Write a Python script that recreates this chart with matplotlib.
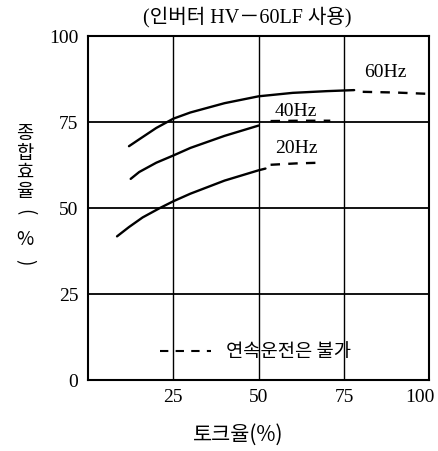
import matplotlib
matplotlib.use("Agg")
import matplotlib.pyplot as plt
import matplotlib.transforms as mtransforms

plt.rcParams['font.family'] = ['Liberation Serif', 'Noto Sans CJK KR', 'DejaVu Sans']

# Data (torque % vs overall efficiency %)
x60_solid = [12, 15, 20, 25, 30, 40, 50, 60, 70, 78]
y60_solid = [68, 70, 73.3, 76, 77.8, 80.5, 82.5, 83.5, 84, 84.3]
x60_dash = [80.5, 90, 100]
y60_dash = [83.8, 83.6, 83.2]

x40_solid = [12.5, 15, 20, 25, 30, 40, 50]
y40_solid = [58.5, 60.5, 63.2, 65.3, 67.5, 71, 74]
x40_dash = [53.5, 62, 71]
y40_dash = [75.3, 75.4, 75.4]

x20_solid = [8.5, 12, 16, 21, 25, 30, 40, 50, 52]
y20_solid = [41.8, 44.5, 47.3, 50, 52, 54.2, 58, 61, 61.5]
x20_dash = [53.5, 61, 68]
y20_dash = [62.6, 63, 63.2]

xticks = [25, 50, 75, 100]
yticks = [0, 25, 50, 75, 100]
grid_x = [25, 50, 75]
grid_y = [25, 50, 75]

fig = plt.figure(figsize=(4.38, 4.51), dpi=100)
ax = fig.add_axes([0.201, 0.157, 0.779, 0.763])
ax.set_xlim(0, 100)
ax.set_ylim(0, 100)

for gx in grid_x:
    ax.axvline(gx, color='black', lw=1.0)
for gy in grid_y:
    ax.axhline(gy, color='black', lw=1.3)

lw = 1.7
dash = (0, (4, 3.5))
kw = dict(color='black', lw=lw, solid_joinstyle='round', solid_capstyle='round')
ax.plot(x60_solid, y60_solid, **kw)
ax.plot(x60_dash, y60_dash, color='black', lw=lw, ls=dash)
ax.plot(x40_solid, y40_solid, **kw)
ax.plot(x40_dash, y40_dash, color='black', lw=lw, ls=dash)
ax.plot(x20_solid, y20_solid, **kw)
ax.plot(x20_dash, y20_dash, color='black', lw=lw, ls=dash)

ax.text(87, 89.5, '60Hz', fontsize=14, ha='center', va='center')
ax.text(61, 78, '40Hz', fontsize=14, ha='center', va='center')
ax.text(61, 67.4, '20Hz', fontsize=14, ha='center', va='center')

# note on dashed lines
ax.plot([21, 36], [8.4, 8.4], color='black', lw=1.5, ls=dash)
ax.text(40.5, 8.4, '연속운전은 불가', fontsize=13.5, ha='left', va='center',
        family=['Noto Sans CJK KR', 'DejaVu Sans'])

ax.set_xticks(xticks)
ax.set_yticks(yticks)
ax.tick_params(length=0, labelsize=14)
ax.tick_params(axis='y', pad=7)
ax.tick_params(axis='x', pad=6)
xl = ax.get_xticklabels()
xl[-1].set_ha('right')
xl[-1].set_transform(xl[-1].get_transform() +
                     mtransforms.ScaledTranslation(5 / 100, 0, fig.dpi_scale_trans))
for s in ax.spines.values():
    s.set_linewidth(1.5)

fig.text(0.564, 0.962, '(인버터 HV－60LF 사용)', fontsize=14.5, ha='center', va='center')
fig.text(0.544, 0.035, '토크율(%)', fontsize=15, ha='center', va='center',
         family=['Noto Sans CJK KR', 'DejaVu Sans'])

# vertical stacked y label
ylab_chars = ['종', '합', '효', '율', '(', '%', ')']
ylab_rot = [0, 0, 0, 0, 270, 0, 270]
ylab_ypx = [134, 153, 172, 191, 212, 240, 262]
for ch, r, ypx in zip(ylab_chars, ylab_rot, ylab_ypx):
    fig.text(25 / 438, 1 - ypx / 451, ch, fontsize=13.5, ha='center', va='center',
             rotation=r, family=['Noto Sans CJK KR', 'DejaVu Sans'])

fig.savefig('out.png', dpi=100)
